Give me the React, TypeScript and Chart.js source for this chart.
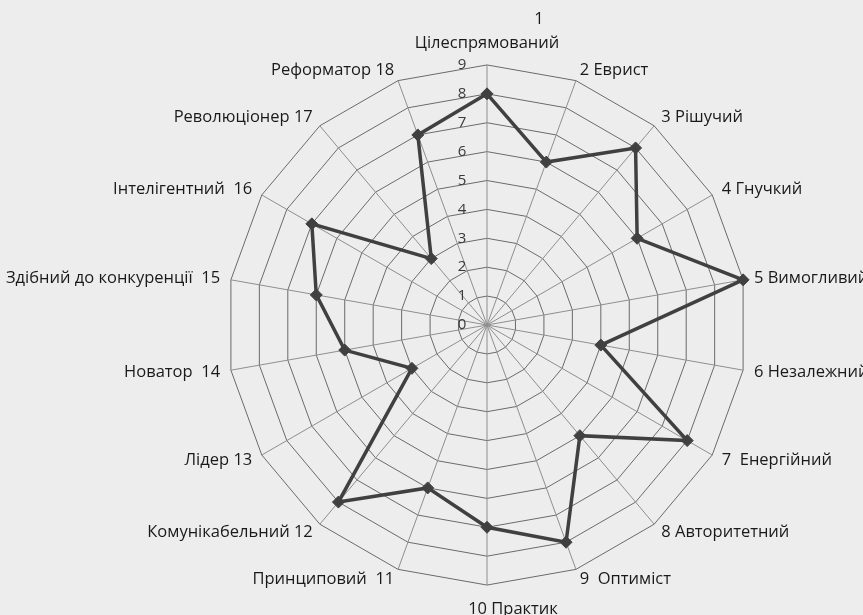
import React, { useEffect, useRef } from 'react';
import { Chart, registerables } from 'chart.js';

Chart.register(...registerables);

const categories: (string | string[])[] = [
  ['1', 'Цілеспрямований'],
  '2 Еврист',
  '3 Рішучий',
  '4 Гнучкий',
  '5 Вимогливий',
  '6 Незалежний',
  '7  Енергійний',
  '8 Авторитетний',
  '9  Оптиміст',
  '10 Практик',
  'Принциповий  11',
  'Комунікабельний 12',
  'Лідер 13',
  'Новатор  14',
  'Здібний до конкуренції  15',
  'Інтелігентний  16',
  'Революціонер 17',
  'Реформатор 18',
];

const seriesValues = [8, 6, 8, 6, 9, 4, 8, 5, 8, 7, 6, 8, 3, 5, 6, 7, 3, 7];

const tickLabels = [0, 1, 2, 3, 4, 5, 6, 7, 8, 9];

const FONT = '"Open Sans", "Noto Sans", sans-serif';
const LABEL_PAD = 11;

const tickPlugin = {
  id: 'leftTicks',
  beforeDatasetsDraw(chart: any) {
    const s = chart.scales.r;
    const ctx = chart.ctx;
    ctx.save();
    ctx.font = `15px ${FONT}`;
    ctx.fillStyle = '#3a3a3a';
    ctx.textAlign = 'center';
    ctx.textBaseline = 'middle';
    tickLabels.forEach((v) => {
      const d = s.getDistanceFromCenterForValue(v);
      ctx.fillText(String(v), s.xCenter - 25, s.yCenter - d);
    });
    ctx.restore();
  },
};

// Draws the category labels vertically centred on the scale's label anchor
const labelPlugin = {
  id: 'centredPointLabels',
  afterDraw(chart: any) {
    const s = chart.scales.r;
    const ctx = chart.ctx;
    const labels = chart.data.labels as (string | string[])[];
    const n = labels.length;
    ctx.save();
    ctx.font = `16.5px ${FONT}`;
    ctx.fillStyle = '#1a1a1a';
    ctx.textBaseline = 'middle';
    labels.forEach((lab, i) => {
      const p = s.getPointPosition(i, s.drawingArea + LABEL_PAD);
      const deg = (i * 360) / n;
      if (deg === 0) {
        const lines = Array.isArray(lab) ? lab : [lab];
        ctx.textAlign = 'center';
        ctx.fillText(lines[1], p.x, p.y - 11);
        ctx.fillText(lines[0], p.x + 52, p.y - 35);
      } else if (deg === 180) {
        ctx.textAlign = 'center';
        ctx.fillText(String(lab), p.x + 26, p.y + 13);
      } else {
        ctx.textAlign = deg < 180 ? 'left' : 'right';
        ctx.fillText(String(lab), p.x, p.y);
      }
    });
    ctx.restore();
  },
};

export default function App() {
  const ref = useRef<HTMLCanvasElement>(null);

  useEffect(() => {
    document.body.style.margin = '0';
    document.body.style.overflow = 'hidden';
    const chart = new Chart(ref.current!, {
      type: 'radar',
      data: {
        labels: categories,
        datasets: [
          {
            data: seriesValues,
            borderColor: '#404040',
            backgroundColor: 'rgba(0,0,0,0)',
            borderWidth: 3.5,
            pointStyle: 'rectRot',
            pointRadius: 6,
            pointBackgroundColor: '#404040',
            pointBorderColor: '#404040',
            pointBorderWidth: 1,
            fill: false,
          },
        ],
      },
      options: {
        animation: false,
        responsive: true,
        maintainAspectRatio: false,
        layout: { padding: 0 },
        plugins: {
          legend: { display: false },
          tooltip: { enabled: false },
        },
        scales: {
          r: {
            min: 0,
            max: 9,
            beginAtZero: true,
            ticks: { stepSize: 1, display: false },
            grid: { color: '#6a6a6a', lineWidth: 1, circular: false },
            angleLines: { color: '#8e8e8e', lineWidth: 1 },
            pointLabels: {
              color: 'rgba(0,0,0,0)',
              font: { family: FONT, size: 16.5, lineHeight: 1.45 },
              padding: LABEL_PAD,
            },
          },
        },
      },
      plugins: [tickPlugin, labelPlugin],
    });
    return () => chart.destroy();
  }, []);

  return (
    <div
      style={{
        width: 863,
        height: 615,
        background: '#ededed',
        position: 'relative',
        overflow: 'hidden',
      }}
    >
      <div style={{ position: 'absolute', left: -44, top: -167, width: 962, height: 962 }}>
        <canvas ref={ref} />
      </div>
    </div>
  );
}
